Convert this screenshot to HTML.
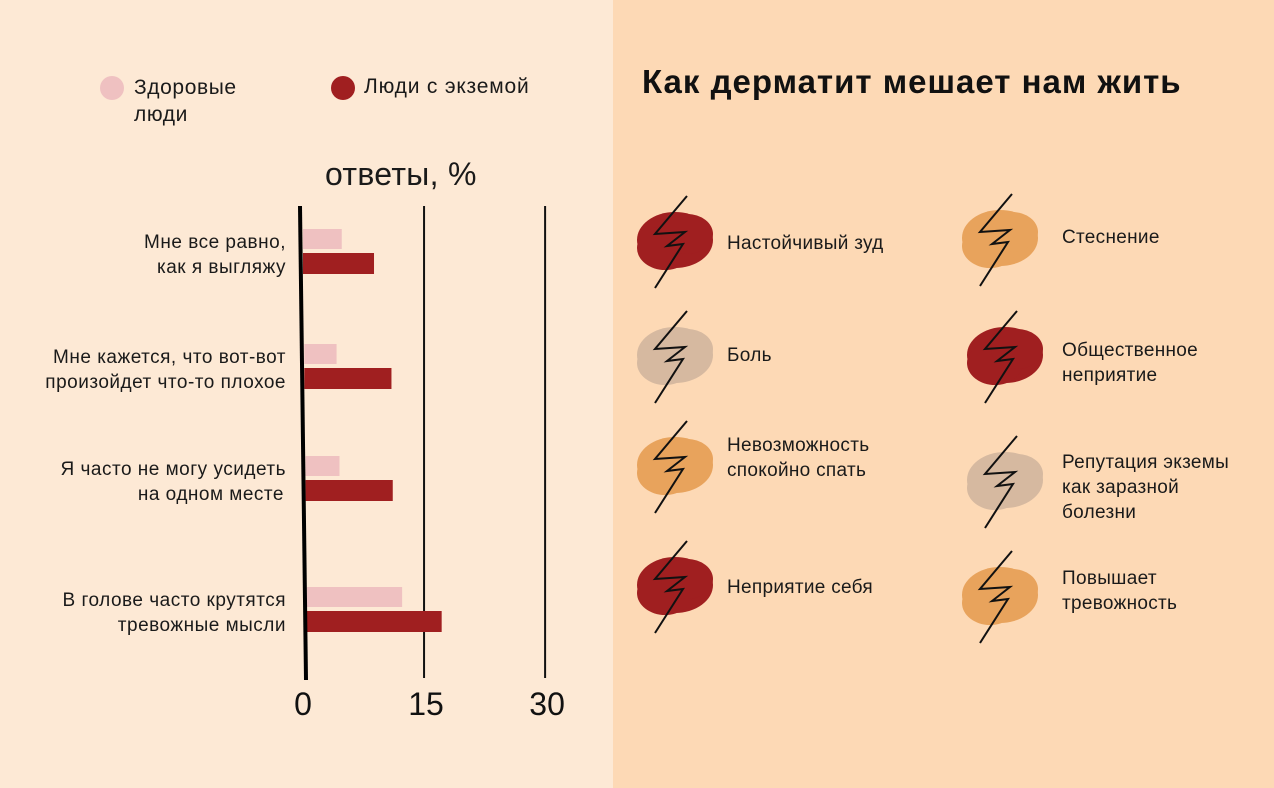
<!DOCTYPE html>
<html><head><meta charset="utf-8"><style>
body{margin:0;width:1274px;height:788px;overflow:hidden;font-family:"Liberation Sans","DejaVu Sans",sans-serif;}
.l{position:absolute;left:0;top:0;width:613px;height:788px;background:#fde9d5;}
.r{position:absolute;left:613px;top:0;width:661px;height:788px;background:#fdd9b5;}
.t{position:absolute;color:#1a1a1a;font-size:19px;line-height:25px;letter-spacing:0.3px;}
</style></head><body>
<div class="l"></div>
<div class="r"></div>
<div>
<div style="position:absolute;left:100px;top:76px;width:24px;height:24px;border-radius:50%;background:#efc1c1"></div>
<div class="t" style="left:134px;top:74px;font-size:21px;line-height:27px;letter-spacing:0.6px">Здоровые<br>люди</div></div>
<div>
<div style="position:absolute;left:331px;top:76px;width:24px;height:24px;border-radius:50%;background:#a01f20"></div>
<div class="t" style="left:364px;top:74px;font-size:21px;letter-spacing:0.8px">Люди с экземой</div></div>
<div class="t" style="left:325px;top:156px;font-size:32px;line-height:36px">ответы, %</div>
<div class="t" style="left:642px;top:63px;font-size:33px;line-height:38px;font-weight:bold;color:#111;letter-spacing:1px">Как дерматит мешает нам жить</div>
<svg id="chart" width="613" height="788" style="position:absolute;left:0;top:0"></svg>
<svg id="icons" width="1274" height="788" style="position:absolute;left:0;top:0"></svg>
<script>
const categories=[["Мне все равно,","как я выгляжу"],["Мне кажется, что вот-вот","произойдет что-то плохое"],["Я часто не могу усидеть","на одном месте"],["В голове часто крутятся","тревожные мысли"]];
const healthy=[4.8,4.0,4.2,11.8];
const eczema=[8.8,10.8,10.8,16.7];
const ticks=[0,15,30];
const NS="http://www.w3.org/2000/svg";
const svg=document.getElementById('chart');
function x(v,i){return 303+(i||0)*1.3+v*8.07;}
const rowY=[229,344,456,587];
function mk(t,a){const e=document.createElementNS(NS,t);for(const k in a)e.setAttribute(k,a[k]);svg.appendChild(e);return e;}
ticks.forEach((t,j)=>{
 if(t>0){const g=mk('line',{x1:x(t),x2:x(t),y1:206,y2:678,stroke:'#111','stroke-width':2});
 
 }
 const tx=mk('text',{x:x(t)+(t==0?0:2),y:715,'font-size':32,'text-anchor':'middle',fill:'#111','font-family':'Liberation Sans'});
 tx.textContent=t;
 
 
});
categories.forEach((c,i)=>{
 const y=rowY[i];
 const b1=mk('rect',{x:x(0,i),y:y,width:healthy[i]*8.07,height:20,fill:'#efc1c1'});
 
 
 const b2=mk('rect',{x:x(0,i),y:y+24,width:eczema[i]*8.07,height:21,fill:'#a01f20'});
 
 
 c.forEach((s,k)=>{const t=mk('text',{x:286-(i==2&&k==1?2:0),y:y+19+k*25,'font-size':19,'letter-spacing':0.5,'text-anchor':'end',fill:'#1a1a1a','font-family':'Liberation Sans'});
 t.textContent=s;
 
 });
});
const ax=mk('line',{x1:300,y1:206,x2:306,y2:680,stroke:'#000','stroke-width':4});



const isvg=document.getElementById('icons');
const items=[[675,240,'#a01f20',["Настойчивый зуд"],727,243],[675,355,'#d6b9a0',["Боль"],727,355],[675,465,'#e8a35c',["Невозможность","спокойно спать"],727,445],[675,585,'#a01f20',["Неприятие себя"],727,587],
[1000,238,'#e8a35c',["Стеснение"],1062,237],[1005,355,'#a01f20',["Общественное","неприятие"],1062,350],[1005,480,'#d6b9a0',["Репутация экземы","как заразной","болезни"],1062,462],[1000,595,'#e8a35c',["Повышает","тревожность"],1062,578]];
items.forEach((it,i)=>{
 const [cx,cy,col,lines,tx,ty]=it;
 const g=document.createElementNS(NS,'g');
 
 
 g.innerHTML=`<ellipse cx="${cx}" cy="${cy}" rx="38" ry="28" fill="${col}"/><ellipse cx="${cx-10}" cy="${cy+8}" rx="28" ry="22" fill="${col}"/><ellipse cx="${cx+12}" cy="${cy-6}" rx="26" ry="20" fill="${col}"/>
 <polyline points="${cx+12},${cy-44} ${cx-20},${cy-6} ${cx+10},${cy-8} ${cx-8},${cy+6} ${cx+8},${cy+4} ${cx-20},${cy+48}" fill="none" stroke="#111" stroke-width="2"/>`;
 isvg.appendChild(g);
 const d=document.createElement('div');d.className='t';d.style.left=tx+'px';d.style.top=(ty-12)+'px';
 d.innerHTML=lines.join('<br>');
 
 
 document.body.appendChild(d);
});
</script>
</body></html>
